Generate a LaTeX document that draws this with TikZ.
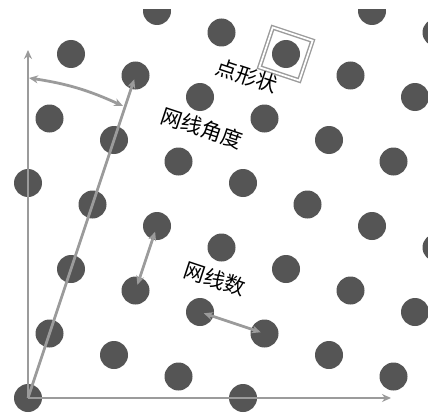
\documentclass[tikz,border=0pt]{standalone}
\usepackage{fontspec}
\newfontfamily\cjk{Noto Sans CJK SC}
\definecolor{dotgray}{RGB}{85,85,85}
\definecolor{linegray}{RGB}{155,155,155}
\usetikzlibrary{arrows.meta,positioning,calc}
\tikzset{
  dot/.style={circle, fill=dotgray, minimum size=28pt, inner sep=0pt},
  guide/.style={linegray, line width=2.8pt},
  tipone/.style={-{Stealth[length=9pt,width=8pt]}},
  tiptwo/.style={{Stealth[length=9pt,width=8pt]}-{Stealth[length=9pt,width=8pt]}},
  tag/.style={font=\cjk\fontsize{21}{25}\selectfont, rotate=-18.43, inner sep=0pt},
}

\begin{document}
\begin{tikzpicture}[x=1pt,y=-1pt]
  \useasboundingbox (0,0) rectangle (428,412);

  \begin{scope}
    \clip (0,10) rectangle (428,412);
    \foreach \n in {0,...,7}{
      \foreach \m in {-2,...,6}{
        \pgfmathsetmacro\dx{28+21.5*\n+64.5*\m}
        \pgfmathsetmacro\dy{398-64.5*\n+21.5*\m}
        \pgfmathtruncatemacro\keep{(\dx>10)*(\dx<440)*(\dy>5)*(\dy<405)}
        \ifnum\keep=1
          \node[dot] (p\n\m) at (\dx,\dy) {};
        \fi
      }
    }
  \end{scope}

  \coordinate (yend) at (28,50);
  \coordinate (xend) at (391,398);
  \draw[guide, tipone] (p00.center) -- (yend);
  \draw[guide, tipone] (p00.center) -- (xend);
  \draw[guide, tipone, shorten >=4pt] (p00.center) -- (p50.center);

  \coordinate (arcA) at (29,78);
  \coordinate (arcB) at (123,106);
  \draw[guide, tiptwo] (arcA) to[bend left=8] (arcB);

  \draw[guide, tiptwo, shorten <=6pt, shorten >=6pt] (p21.center) -- (p31.center);
  \draw[guide, tiptwo, shorten <=4pt, shorten >=4pt] (p22.center) -- (p23.center);

  \node[draw=linegray, double=white, double distance=1.8pt, line width=1.4pt,
        minimum size=42pt, rotate=-18.43] (shapebox) at (p62) {};

  \node[tag] (lshape) at (247,76) {点形状};
  \node[tag] (langle) at (202,128) {网线角度};
  \node[tag] (lfreq) at (215,279) {网线数};
\end{tikzpicture}
\end{document}
